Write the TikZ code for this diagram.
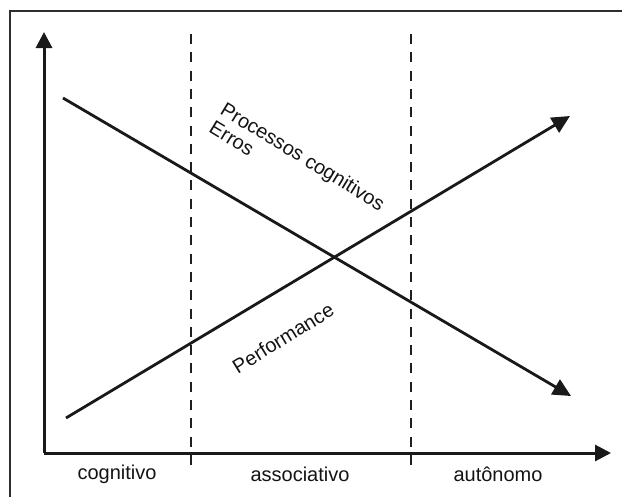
\documentclass[tikz,border=0pt]{standalone}
\usepackage{fontspec}
\setmainfont{Liberation Sans}
\usetikzlibrary{arrows.meta}
\tikzset{
  axisline/.style={line width=3pt, draw=black!90, -{Triangle[length=16pt,width=16pt]}},
  trendline/.style={line width=2.8pt, draw=black!90, -{Triangle[length=18pt,width=17pt]}},
  phase/.style={line width=2.3pt, draw=black!88, dash pattern=on 10pt off 8.3pt},
  frameline/.style={line width=2.4pt, draw=black!82},
  lbl/.style={inner sep=0pt, text=black!92, font=\fontsize{20}{24}\selectfont},
}
\begin{document}
\begin{tikzpicture}[x=1pt,y=-1pt]
\useasboundingbox (0,0) rectangle (622,496);
\fill[white] (0,0) rectangle (622,496);
\begin{scope}
\clip (0,0) rectangle (622,496);
\draw[frameline] (10,11) rectangle (650,530);
\end{scope}
% coordinates
\coordinate (O) at (44,453);
\coordinate (ytip) at (44,32);
\coordinate (xtip) at (611,453);
\coordinate (d1top) at (191,34);
\coordinate (d1bot) at (191,473);
\coordinate (d2top) at (411,34);
\coordinate (d2bot) at (411,473);
\coordinate (pstart) at (66,418);
\coordinate (pend) at (570,116);
\coordinate (estart) at (63,98);
\coordinate (eend) at (571,396);
% phase separators
\draw[phase] (d1top) -- (d1bot);
\draw[phase] (d2top) -- (d2bot);
% axes
\draw[axisline] (O) -- (ytip);
\draw[axisline] (O) -- (xtip);
% trends
\draw[trendline] (pstart) -- (pend);
\draw[trendline] (estart) -- (eend);
% labels
\node[lbl] (lcog) at (117,474) {cognitivo};
\node[lbl] (lass) at (300,474) {associativo};
\node[lbl] (laut) at (498,474) {autônomo};
\node[lbl, rotate=-31.3] (lproc) at (302,158) {Processos cognitivos};
\node[lbl, rotate=-31.3, anchor=north west] (lerr) at (lproc.south west) {\strut Erros};
\node[lbl, rotate=31.5] (lperf) at (283,338) {Performance};
\end{tikzpicture}
\end{document}
